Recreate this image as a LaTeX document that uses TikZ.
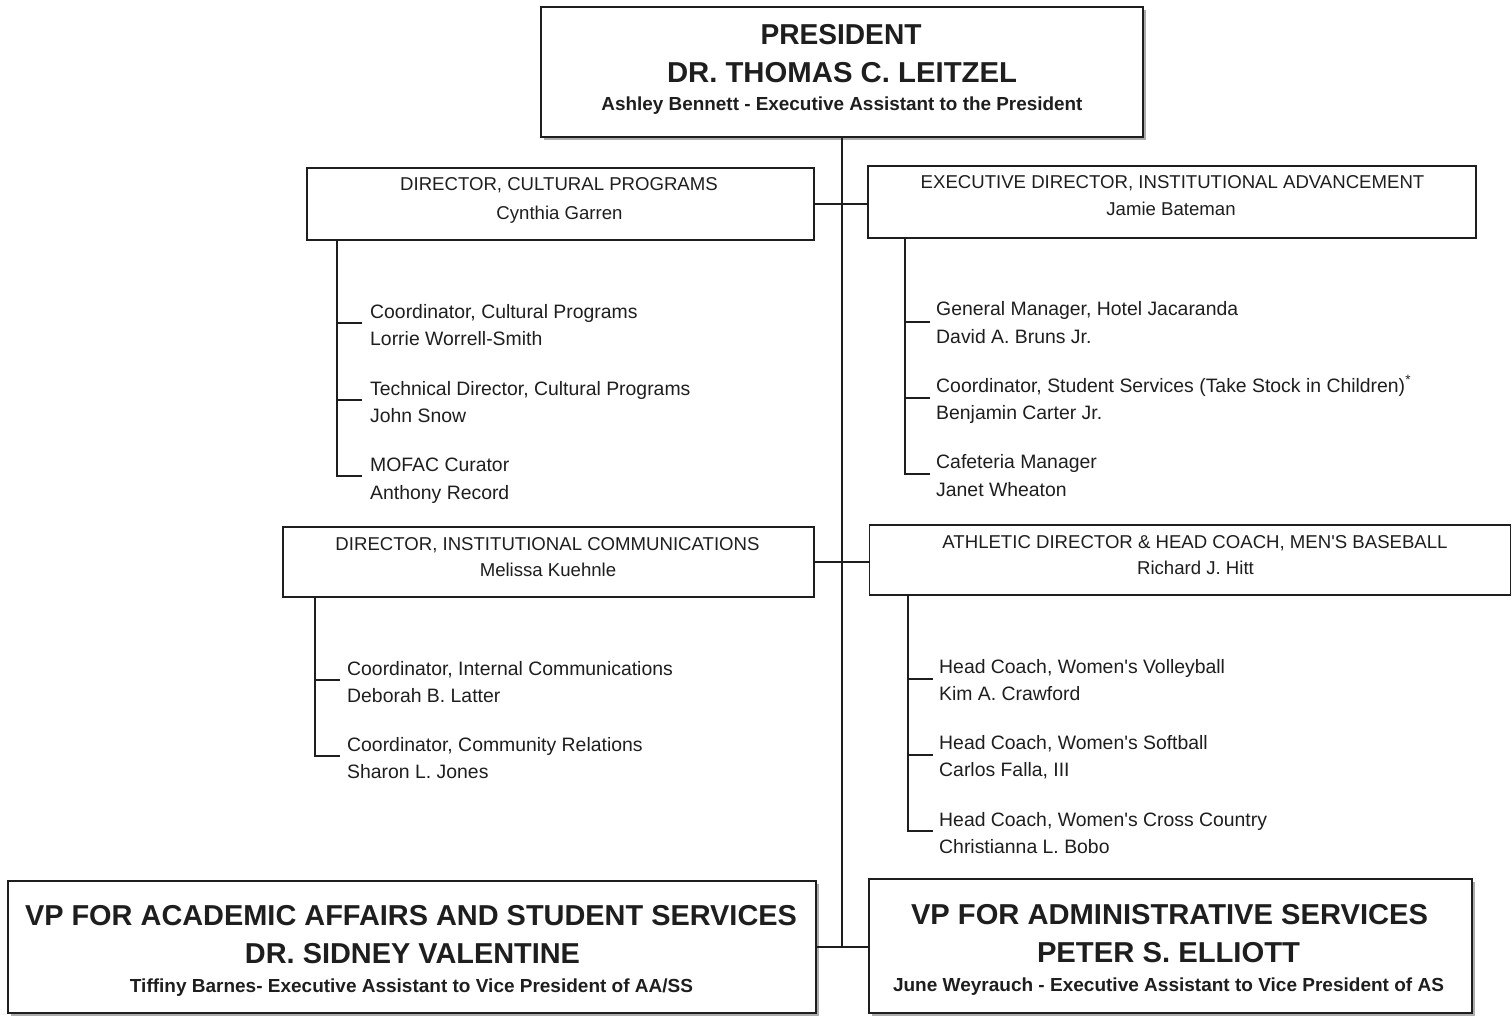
\documentclass[tikz,border=0pt]{standalone}
\usepackage{fontspec}
\setmainfont{Liberation Sans}
\usetikzlibrary{shadows,calc}
\definecolor{ink}{HTML}{1E1E1E}
\newcommand\fw[2]{\resizebox{#1pt}{\height}{#2}}
\begin{document}
\begin{tikzpicture}[x=1pt,y=-1pt,
 box/.style={draw=ink,line width=1.9pt,fill=white,inner sep=0pt},
 bigbox/.style={box,drop shadow={shadow xshift=3pt,shadow yshift=-3pt,fill=gray!65,opacity=1}},
 conn/.style={draw=ink,line width=1.9pt},
 bt/.style={anchor=base,text=ink,inner sep=0pt,font=\bfseries\fontsize{28.8}{28.8}\selectfont},
 ba/.style={anchor=base,text=ink,inner sep=0pt,font=\bfseries\fontsize{18.9}{18.9}\selectfont},
 st/.style={anchor=base,text=ink,inner sep=0pt,font=\fontsize{18.6}{18.6}\selectfont},
 sub/.style={anchor=base west,text=ink,inner sep=0pt,font=\fontsize{19.4}{19.4}\selectfont}]
\useasboundingbox[fill=white] (0,0) rectangle (1512,1016);

% boxes
\node[bigbox,minimum width=602pt,minimum height=130pt] (pres) at (842,72) {};
\node[box,minimum width=507pt,minimum height=72pt] (dc) at (560.5,204) {};
\node[box,minimum width=608pt,minimum height=72pt] (ia) at (1172,202) {};
\node[box,minimum width=531pt,minimum height=70pt] (ic) at (548.5,562) {};
\node[box,minimum width=641pt,minimum height=70pt] (ath) at (1190,560) {};
\node[bigbox,minimum width=808pt,minimum height=132pt] (vpaa) at (412,947) {};
\node[bigbox,minimum width=603pt,minimum height=134pt] (vpas) at (1170.5,946) {};

% box texts
\node[bt] (p1) at (841,45) {\fw{161}{PRESIDENT}};
\node[bt] (p2) at (842,83) {\fw{350}{DR. THOMAS C. LEITZEL}};
\node[ba] (p3) at (842,111) {\fw{481}{Ashley Bennett - Executive Assistant to the President}};

\node[st] (dc1) at (559,191) {DIRECTOR, CULTURAL PROGRAMS};
\node[st] (dc2) at (559.5,220) {Cynthia Garren};

\node[st] (ia1) at (1172.5,189) {EXECUTIVE DIRECTOR, INSTITUTIONAL ADVANCEMENT};
\node[st] (ia2) at (1171,216) {Jamie Bateman};

\node[st] (ic1) at (547.5,550) {DIRECTOR, INSTITUTIONAL COMMUNICATIONS};
\node[st] (ic2) at (548,576) {Melissa Kuehnle};

\node[st] (at1) at (1195,548) {ATHLETIC DIRECTOR \& HEAD COACH, MEN\textquotesingle S BASEBALL};
\node[st] (at2) at (1195.5,574) {Richard J. Hitt};

\node[bt] (va1) at (411,925) {\fw{772}{VP FOR ACADEMIC AFFAIRS AND STUDENT SERVICES}};
\node[bt] (va2) at (412.5,963) {\fw{335}{DR. SIDNEY VALENTINE}};
\node[ba] (va3) at (411.5,992) {\fw{563}{Tiffiny Barnes- Executive Assistant to Vice President of AA/SS}};

\node[bt] (vs1) at (1169.5,924) {\fw{517}{VP FOR ADMINISTRATIVE SERVICES}};
\node[bt] (vs2) at (1168.5,962) {\fw{263}{PETER S. ELLIOTT}};
\node[ba] (vs3) at (1168.5,991) {\fw{551}{June Weyrauch - Executive Assistant to Vice President of AS}};

% main trunk and cross links
\draw[conn] (pres.south) -- (pres.south |- vpaa.east);
\draw[conn] (dc.east) -- (dc.east -| ia.west);
\draw[conn] (ic.east) -- (ic.east -| ath.west);
\draw[conn] (vpaa.east) -- (vpaa.east -| vpas.west);

% Cultural programs staff
\node[sub] (c1a) at (370,318) {Coordinator, Cultural Programs};
\node[sub] (c1b) at (370,345) {Lorrie Worrell-Smith};
\node[sub] (c2a) at (370,395) {Technical Director, Cultural Programs};
\node[sub] (c2b) at (370,422) {John Snow};
\node[sub] (c3a) at (370,471) {MOFAC Curator};
\node[sub] (c3b) at (370,499) {Anthony Record};
\coordinate (cx) at (337,0);
\coordinate (ct1) at ($(c1a.base west)+(-8,5)$);
\coordinate (ct2) at ($(c2a.base west)+(-8,5)$);
\coordinate (ct3) at ($(c3a.base west)+(-8,5)$);
\draw[conn] (cx |- dc.south) |- (ct3);
\draw[conn] (ct1 -| cx) -- (ct1);
\draw[conn] (ct2 -| cx) -- (ct2);

% Institutional advancement staff
\node[sub] (i1a) at (936,316) {General Manager, Hotel Jacaranda};
\node[sub] (i1b) at (936,343) {David A. Bruns Jr.};
\node[sub] (i2a) at (936,392) {Coordinator, Student Services (Take Stock in Children)\textsuperscript{*}};
\node[sub] (i2b) at (936,419) {Benjamin Carter Jr.};
\node[sub] (i3a) at (936,468) {Cafeteria Manager};
\node[sub] (i3b) at (936,496) {Janet Wheaton};
\coordinate (ix) at (905,0);
\coordinate (it1) at ($(i1a.base west)+(-6,6)$);
\coordinate (it2) at ($(i2a.base west)+(-6,6)$);
\coordinate (it3) at ($(i3a.base west)+(-6,6)$);
\draw[conn] (ix |- ia.south) |- (it3);
\draw[conn] (it1 -| ix) -- (it1);
\draw[conn] (it2 -| ix) -- (it2);

% Institutional communications staff
\node[sub] (m1a) at (347,675) {Coordinator, Internal Communications};
\node[sub] (m1b) at (347,702) {Deborah B. Latter};
\node[sub] (m2a) at (347,751) {Coordinator, Community Relations};
\node[sub] (m2b) at (347,778) {Sharon L. Jones};
\coordinate (mx) at (315,0);
\coordinate (mt1) at ($(m1a.base west)+(-7,5)$);
\coordinate (mt2) at ($(m2a.base west)+(-7,5)$);
\draw[conn] (mx |- ic.south) |- (mt2);
\draw[conn] (mt1 -| mx) -- (mt1);

% Athletics staff
\node[sub] (a1a) at (939,673) {Head Coach, Women\textquotesingle s Volleyball};
\node[sub] (a1b) at (939,700) {Kim A. Crawford};
\node[sub] (a2a) at (939,749) {Head Coach, Women\textquotesingle s Softball};
\node[sub] (a2b) at (939,776) {Carlos Falla, III};
\node[sub] (a3a) at (939,826) {Head Coach, Women\textquotesingle s Cross Country};
\node[sub] (a3b) at (939,853) {Christianna L. Bobo};
\coordinate (ax) at (908,0);
\coordinate (at1) at ($(a1a.base west)+(-6,6)$);
\coordinate (at2) at ($(a2a.base west)+(-6,6)$);
\coordinate (at3) at ($(a3a.base west)+(-6,5)$);
\draw[conn] (ax |- ath.south) |- (at3);
\draw[conn] (at1 -| ax) -- (at1);
\draw[conn] (at2 -| ax) -- (at2);
\end{tikzpicture}
\end{document}
